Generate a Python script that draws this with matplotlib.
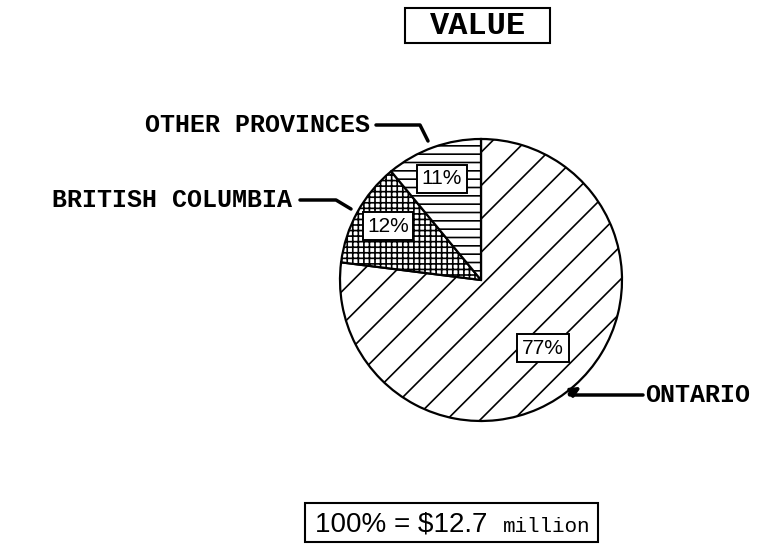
import matplotlib
matplotlib.use("Agg")
import matplotlib.pyplot as plt
from matplotlib.patches import Rectangle

# data
provinces = ["ONTARIO", "BRITISH COLUMBIA", "OTHER PROVINCES"]
shares = [77, 12, 11]
hatches = ["/", "+++", "--"]
title = "VALUE"
total_value = "$12.7"

plt.rcParams["hatch.linewidth"] = 1.2

fig = plt.figure(figsize=(7.73, 5.46), dpi=100)
ax = fig.add_axes([0, 0, 1, 1])

# pie: centre and radius in pixel-like axis units (y up)
cx, cy, r = 481, 266, 141
wedges, _ = ax.pie(shares, startangle=90, counterclock=False, hatch=hatches,
                   center=(cx, cy), radius=r,
                   colors=["white"] * 3,
                   wedgeprops=dict(edgecolor="black", linewidth=1.6))

ax.set_xlim(0, 773)
ax.set_ylim(0, 546)
ax.set_aspect("equal")
ax.axis("off")

mono = "Liberation Mono"
sans = "Liberation Sans"

# percentage labels
pct_pos = [(543, 198), (388, 320), (442, 367)]
for s, (x, y) in zip(shares, pct_pos):
    ax.text(x, y, f"{s}%", ha="center", va="center", fontsize=15, family=sans,
            bbox=dict(boxstyle="square,pad=0.22", fc="white", ec="black", lw=1.4))

# title
ax.add_patch(Rectangle((405, 503), 145, 35, fill=False, ec="black", lw=1.5))
ax.text(478, 520, title, ha="center", va="center", fontsize=23, family=mono,
        weight="bold")

# labels and leader lines
ax.text(370, 421, provinces[2], ha="right", va="center", fontsize=18,
        family=mono, weight="bold")
ax.plot([376, 420, 428], [421, 421, 405], color="black", lw=2.5,
        solid_capstyle="round")

ax.text(292, 346, provinces[1], ha="right", va="center", fontsize=18,
        family=mono, weight="bold")
ax.plot([300, 336, 351], [346, 346, 337], color="black", lw=2.5,
        solid_capstyle="round")

ax.text(645, 151, provinces[0], ha="left", va="center", fontsize=18,
        family=mono, weight="bold")
ax.annotate("", xy=(581, 159), xytext=(643, 151),
            arrowprops=dict(arrowstyle="-|>", color="black", lw=2.5,
                            connectionstyle="angle,angleA=0,angleB=30,rad=4",
                            mutation_scale=14, shrinkA=0, shrinkB=0))

# footer
ax.add_patch(Rectangle((305, 4), 293, 39, fill=False, ec="black", lw=1.5))
ax.text(315, 14, f"100% = {total_value}", ha="left", va="baseline",
        fontsize=20, family=sans)
ax.text(503, 14, "million", ha="left", va="baseline", fontsize=15, family=mono)

fig.savefig("out.png", dpi=100)
